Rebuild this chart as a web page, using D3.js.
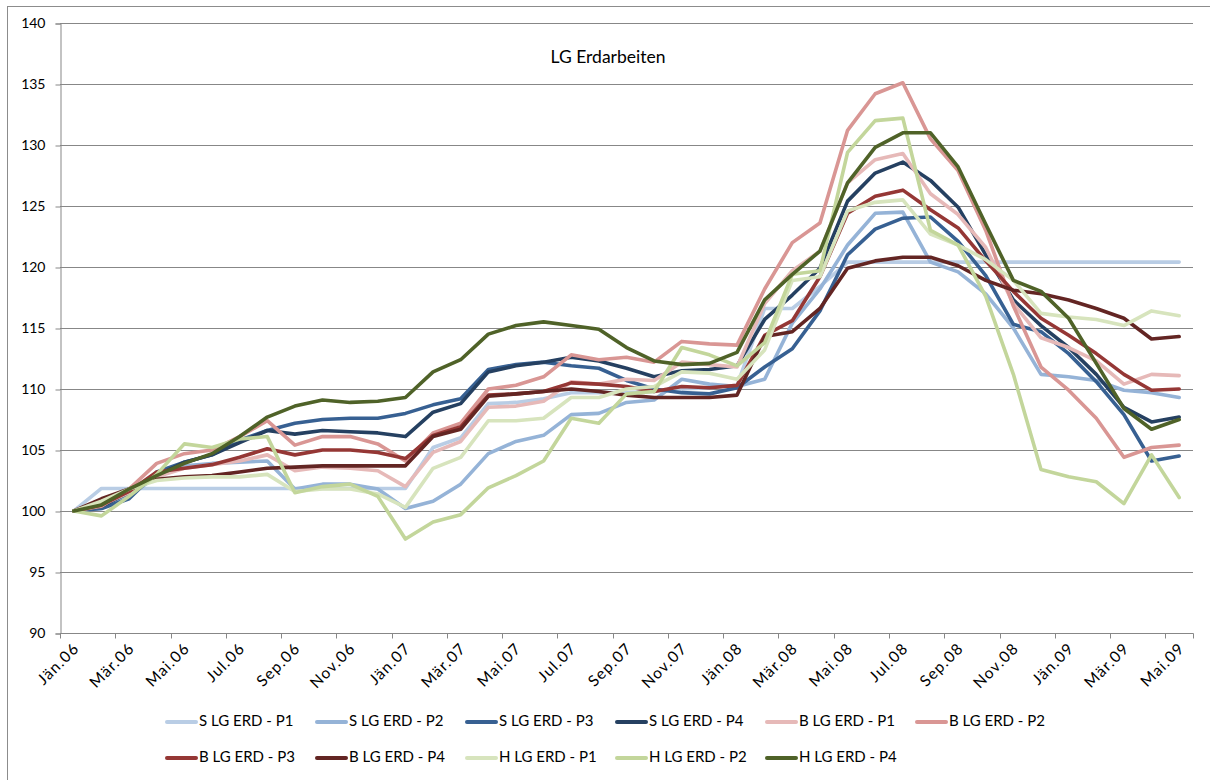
<!DOCTYPE html>
<html>
<head>
<meta charset="utf-8">
<script src="https://cdn.jsdelivr.net/npm/d3@7/dist/d3.min.js"></script>
<style>
  html, body { margin: 0; padding: 0; background: #ffffff; }
  svg { display: block; font-family: Lato, "Open Sans", sans-serif; }
</style>
</head>
<body>
<svg id="chart" width="1210" height="780"></svg>
<script>
// Monthly categories Jän.06 – Mai.09
const months = [
  "Jän.06","Feb.06","Mär.06","Apr.06","Mai.06","Jun.06","Jul.06","Aug.06","Sep.06","Okt.06","Nov.06","Dez.06",
  "Jän.07","Feb.07","Mär.07","Apr.07","Mai.07","Jun.07","Jul.07","Aug.07","Sep.07","Okt.07","Nov.07","Dez.07",
  "Jän.08","Feb.08","Mär.08","Apr.08","Mai.08","Jun.08","Jul.08","Aug.08","Sep.08","Okt.08","Nov.08","Dez.08",
  "Jän.09","Feb.09","Mär.09","Apr.09","Mai.09"
];

const yTicks = [90, 95, 100, 105, 110, 115, 120, 125, 130, 135, 140];

const seriesNames = [
  "S LG ERD - P1","S LG ERD - P2","S LG ERD - P3","S LG ERD - P4",
  "B LG ERD - P1","B LG ERD - P2","B LG ERD - P3","B LG ERD - P4",
  "H LG ERD - P1","H LG ERD - P2","H LG ERD - P4"
];

const sP1 = [100,101.85,101.85,101.85,101.85,101.85,101.85,101.85,101.85,101.85,101.85,101.85,101.85,105.2,106.0,108.8,108.9,109.2,109.7,109.7,109.7,109.8,110.0,110.1,110.3,116.6,116.6,118.4,120.4,120.4,120.4,120.4,120.4,120.4,120.4,120.4,120.4,120.4,120.4,120.4,120.4];
const sP2 = [100,100.2,101.3,102.8,103.7,103.9,104.0,104.1,101.8,102.2,102.2,101.8,100.2,100.8,102.2,104.7,105.7,106.2,107.9,108.0,108.9,109.1,110.8,110.4,110.2,110.8,115.4,118.2,121.8,124.4,124.5,120.4,119.6,117.8,115.0,111.2,111.0,110.7,109.9,109.7,109.3];
const sP3 = [100,100.2,101.0,103.2,104.0,104.6,105.8,106.6,107.2,107.5,107.6,107.6,108.0,108.7,109.2,111.6,112.0,112.2,111.9,111.7,110.7,110.0,109.7,109.6,110.1,111.8,113.3,116.4,121.0,123.1,124.0,124.1,122.1,119.3,115.3,114.7,112.9,110.6,107.9,104.1,104.5];
const sP4 = [100,100.4,101.5,102.9,104.0,104.6,105.6,106.6,106.3,106.6,106.5,106.4,106.1,108.1,108.8,111.4,111.9,112.2,112.6,112.3,111.7,111.0,111.5,111.6,111.9,115.7,117.7,119.9,125.4,127.7,128.6,127.1,124.9,121.0,117.3,115.2,113.4,111.2,108.5,107.3,107.7];
const bP1 = [100,100.5,101.5,102.8,103.5,103.8,104.1,104.6,103.3,103.6,103.5,103.3,102.0,104.8,105.7,108.5,108.6,109.0,110.6,110.4,110.8,110.7,112.2,112.0,111.8,117.0,119.7,121.3,126.9,128.8,129.3,126.0,124.3,121.6,117.0,114.2,113.4,112.3,110.4,111.2,111.1];
const bP2 = [100,100.4,101.8,103.9,104.7,105.0,106.1,107.4,105.4,106.1,106.1,105.5,104.1,106.4,107.2,110.0,110.3,111.0,112.8,112.4,112.6,112.2,113.9,113.7,113.6,118.2,122.0,123.6,131.2,134.2,135.1,130.5,127.9,123.0,116.8,111.8,109.9,107.6,104.4,105.2,105.4];
const bP3 = [100,100.5,101.6,103.2,103.5,103.8,104.4,105.1,104.6,105.0,105.0,104.8,104.3,106.2,106.9,109.5,109.6,109.8,110.5,110.4,110.2,109.8,110.2,110.1,110.3,114.4,115.6,119.2,124.4,125.8,126.3,124.7,123.2,120.5,118.0,115.8,114.4,112.9,111.2,109.9,110.0];
const bP4 = [100,101.0,101.8,102.6,102.8,102.9,103.2,103.5,103.6,103.7,103.7,103.7,103.7,106.1,106.7,109.4,109.6,109.8,110.0,109.8,109.5,109.3,109.3,109.3,109.5,114.3,114.7,116.6,119.9,120.5,120.8,120.8,120.1,118.9,118.1,117.8,117.3,116.6,115.8,114.1,114.3];
const hP1 = [100,100.8,101.8,102.5,102.7,102.8,102.8,103.0,101.6,101.8,101.8,101.4,100.3,103.5,104.4,107.4,107.4,107.6,109.3,109.3,110.0,110.2,111.4,111.3,110.8,113.2,118.9,119.2,124.6,125.3,125.5,122.7,121.8,120.6,118.9,116.2,115.9,115.7,115.2,116.4,116.0];
const hP2 = [100,99.6,101.2,103.0,105.5,105.2,105.9,106.1,101.5,102.0,102.2,101.2,97.7,99.1,99.7,101.9,102.9,104.1,107.6,107.2,109.6,109.8,113.4,112.8,111.9,113.8,119.4,119.7,129.4,132.0,132.2,123.0,121.8,117.6,111.2,103.4,102.8,102.4,100.6,104.6,101.1];
const hP4 = [100,100.5,101.8,102.9,103.9,104.7,106.1,107.7,108.6,109.1,108.9,109.0,109.3,111.4,112.4,114.5,115.2,115.5,115.2,114.9,113.4,112.3,112.0,112.1,113.0,117.3,119.4,121.3,126.9,129.8,131.0,131.0,128.2,123.5,118.9,118.0,115.8,112.1,108.4,106.7,107.5];

const seriesValues = [sP1, sP2, sP3, sP4, bP1, bP2, bP3, bP4, hP1, hP2, hP4];
const seriesColors = [
  "#b9cde5","#95b3d7","#376092","#254061",
  "#e6b9b8","#d99694","#953735","#632523",
  "#d7e4bd","#c3d69b","#4f6228"
];

const svg = d3.select("#chart");
const gridColor = "#878787";
const font = "Lato, 'Open Sans', sans-serif";

// chart frame
svg.append("rect")
  .attr("x", 7.5).attr("y", 6.5)
  .attr("width", 1230).attr("height", 790)
  .attr("fill", "none").attr("stroke", "#8c8c8c").attr("stroke-width", 1);

const plot = { left: 60, right: 1193, top: 23, bottom: 633 };

const x = d3.scaleBand().domain(months).range([plot.left, plot.right]).padding(0);
const y = d3.scaleLinear().domain([90, 140]).range([plot.bottom, plot.top]);
const cx = m => x(m) + x.bandwidth() / 2;

// horizontal gridlines
svg.append("g")
  .selectAll("line")
  .data(yTicks)
  .join("line")
  .attr("x1", plot.left).attr("x2", plot.right)
  .attr("y1", d => Math.round(y(d)) + 0.5).attr("y2", d => Math.round(y(d)) + 0.5)
  .attr("stroke", gridColor).attr("stroke-width", 1);

// y axis
const yAxis = d3.axisLeft(y).tickValues(yTicks).tickSize(5).tickPadding(10);
const gy = svg.append("g")
  .attr("transform", `translate(${plot.left + 0.5},0.5)`)
  .call(yAxis);
gy.select(".domain").attr("stroke", gridColor);
gy.selectAll(".tick line").attr("stroke", gridColor);
gy.selectAll(".tick text")
  .attr("font-family", font)
  .attr("font-size", 14).attr("fill", "#000");

// x axis (category boundaries every second month)
const tickMonths = months.filter((m, i) => i % 2 === 0);
const gx = svg.append("g").attr("transform", `translate(0.5,${Math.round(y(90)) + 0.5})`);
gx.append("line")
  .attr("x1", plot.left).attr("x2", plot.right)
  .attr("stroke", gridColor);
gx.selectAll("line.tk")
  .data(tickMonths)
  .join("line")
  .attr("class", "tk")
  .attr("x1", m => Math.round(x(m))).attr("x2", m => Math.round(x(m)))
  .attr("y1", 0).attr("y2", 5)
  .attr("stroke", gridColor);
gx.append("line")
  .attr("x1", plot.right).attr("x2", plot.right)
  .attr("y1", 0).attr("y2", 5).attr("stroke", gridColor);
gx.selectAll("text")
  .data(tickMonths)
  .join("text")
  .attr("transform", m => `translate(${cx(m) + 2},${12}) rotate(-45)`)
  .attr("text-anchor", "end")
  .attr("dy", "0.35em")
  .attr("font-family", font)
  .attr("font-size", 15.5)
  .attr("letter-spacing", "1.2px")
  .attr("fill", "#000")
  .text(m => m);

// title
svg.append("text")
  .attr("x", 608).attr("y", 59)
  .attr("text-anchor", "middle")
  .attr("dominant-baseline", "middle")
  .attr("font-family", font)
  .attr("font-size", 17.5)
  .attr("fill", "#000")
  .text("LG Erdarbeiten");

// series lines
const line = d3.line()
  .x((d, i) => cx(months[i]))
  .y(d => y(d))
  .curve(d3.curveLinear);

svg.append("g")
  .selectAll("path")
  .data(seriesValues)
  .join("path")
  .attr("d", d => line(d))
  .attr("fill", "none")
  .attr("stroke", (d, i) => seriesColors[i])
  .attr("stroke-width", 3.6)
  .attr("stroke-linejoin", "round")
  .attr("stroke-linecap", "round");

// legend
const legend = svg.append("g");
seriesNames.forEach((name, i) => {
  const row = i < 6 ? 0 : 1;
  const col = i < 6 ? i : i - 6;
  const lx = 167 + col * 150;
  const ly = row === 0 ? 722 : 758;
  legend.append("line")
    .attr("x1", lx).attr("x2", lx + 29)
    .attr("y1", ly).attr("y2", ly)
    .attr("stroke", seriesColors[i]).attr("stroke-width", 4)
    .attr("stroke-linecap", "round");
  legend.append("text")
    .attr("x", lx + 32).attr("y", ly)
    .attr("dominant-baseline", "middle")
    .attr("font-family", font)
    .attr("font-size", 15)
    .attr("fill", "#000")
    .text(name);
});
</script>
</body>
</html>
